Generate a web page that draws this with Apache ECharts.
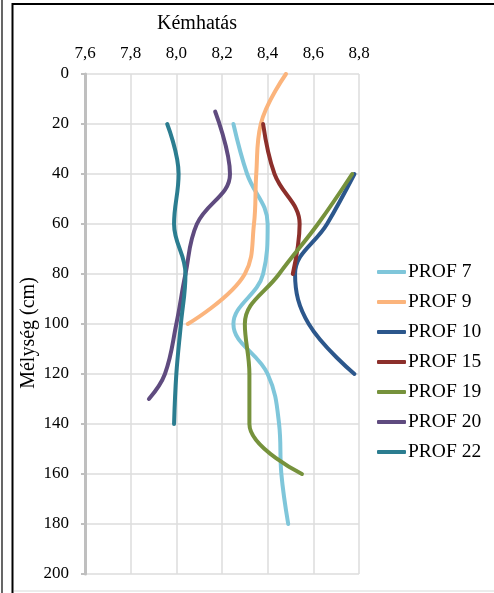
<!DOCTYPE html>
<html>
<head>
<meta charset="utf-8">
<title>Kémhatás – Mélység</title>
<script src="https://cdn.jsdelivr.net/npm/echarts@6/dist/echarts.min.js"></script>
<style>
  html, body { margin: 0; padding: 0; background: #fff; }
  #chart { width: 494px; height: 593px; }
</style>
</head>
<body>
<div id="chart"></div>
<script>
// pH (kémhatás) profiles by depth; each point is [pH, depth in cm]
const seriesNames = ['PROF 7', 'PROF 9', 'PROF 10', 'PROF 15', 'PROF 19', 'PROF 20', 'PROF 22'];

const prof7  = [[8.25, 20], [8.31, 40], [8.40, 60], [8.38, 80], [8.25, 100], [8.40, 120], [8.45, 140], [8.46, 160], [8.49, 180]];
const prof9  = [[8.48, 0], [8.37, 20], [8.35, 40], [8.34, 60], [8.30, 80], [8.05, 100]];
const prof10 = [[8.78, 40], [8.66, 60], [8.52, 80], [8.58, 100], [8.78, 120]];
const prof15 = [[8.38, 20], [8.43, 40], [8.54, 60], [8.51, 80]];
const prof19 = [[8.77, 40], [8.62, 60], [8.45, 80], [8.30, 100], [8.32, 120], [8.32, 140], [8.55, 160]];
const prof20 = [[8.17, 15], [8.235, 40], [8.09, 60], [8.04, 80], [8.00, 100], [7.95, 120], [7.88, 130]];
const prof22 = [[7.96, 20], [8.01, 40], [7.99, 60], [8.04, 80], [8.02, 100], [8.00, 120], [7.99, 140]];

const seriesData = [prof7, prof9, prof10, prof15, prof19, prof20, prof22];
const seriesColors = ['#7fc6da', '#fbb47c', '#2c578c', '#8c2f2b', '#76923c', '#5f4b7f', '#2b7d90'];

// axis ranges and tick labels
const phTicks = [7.6, 7.8, 8.0, 8.2, 8.4, 8.6, 8.8];
const phTickLabels = ['7,6', '7,8', '8,0', '8,2', '8,4', '8,6', '8,8'];
const depthTicks = [0, 20, 40, 60, 80, 100, 120, 140, 160, 180, 200];

const FONT = 'Liberation Serif, Times New Roman, serif';
const GRID_COLOR = '#dcdcdc';
const AXIS_GREY = '#bfbfbf';

const chart = echarts.init(document.getElementById('chart'), null, { renderer: 'canvas' });

const option = {
  animation: false,
  backgroundColor: '#ffffff',
  grid: { left: 85, right: 135, top: 74, bottom: 19, containLabel: false },
  xAxis: {
    type: 'value',
    position: 'top',
    min: phTicks[0],
    max: phTicks[phTicks.length - 1],
    interval: 0.2,
    axisLine: { show: false },
    axisTick: { show: false },
    axisLabel: {
      margin: 12,
      fontFamily: FONT,
      fontSize: 17,
      color: '#000',
      formatter: function (v) {
        const i = phTicks.findIndex(t => Math.abs(t - v) < 1e-6);
        return i >= 0 ? phTickLabels[i] : '';
      }
    },
    splitLine: { show: true, lineStyle: { color: GRID_COLOR, width: 1.5 } }
  },
  yAxis: {
    type: 'value',
    inverse: true,
    min: depthTicks[0],
    max: depthTicks[depthTicks.length - 1],
    interval: 20,
    axisLine: { show: true, lineStyle: { color: AXIS_GREY, width: 3 } },
    axisTick: { show: true, inside: false, length: 4, lineStyle: { color: AXIS_GREY, width: 2 } },
    axisLabel: { margin: 16, fontFamily: FONT, fontSize: 17, color: '#000' },
    splitLine: { show: true, lineStyle: { color: GRID_COLOR, width: 1.5 } }
  },
  legend: {
    orient: 'vertical',
    left: 372,
    top: 257,
    icon: 'roundRect',
    itemWidth: 29,
    itemHeight: 4,
    itemGap: 10,
    data: seriesNames,
    textStyle: { fontFamily: FONT, fontSize: 19.5, color: '#000', padding: [0, 0, 0, -3] }
  },
  graphic: [
    // frame lines
    { type: 'line', shape: { x1: 2, y1: 0, x2: 2, y2: 593 }, style: { stroke: '#000', lineWidth: 1.2 }, silent: true },
    { type: 'line', shape: { x1: 12.5, y1: 3, x2: 12.5, y2: 593 }, style: { stroke: '#000', lineWidth: 2 }, silent: true },
    { type: 'line', shape: { x1: 12, y1: 4, x2: 494, y2: 4 }, style: { stroke: '#000', lineWidth: 2 }, silent: true },
    { type: 'line', shape: { x1: 14, y1: 591, x2: 494, y2: 591 }, style: { stroke: '#d9d9d9', lineWidth: 1 }, silent: true },
    // axis titles
    {
      type: 'text', x: 197, y: 24, silent: true,
      style: { text: 'Kémhatás', font: '20px ' + FONT, fill: '#000', textAlign: 'center', textVerticalAlign: 'middle' }
    },
    {
      type: 'text', x: 29, y: 333, rotation: Math.PI / 2, silent: true,
      style: { text: 'Mélység (cm)', font: '20px ' + FONT, fill: '#000', textAlign: 'center', textVerticalAlign: 'middle' }
    }
  ],
  series: seriesNames.map((name, i) => ({
    name: name,
    type: 'line',
    data: seriesData[i],
    smooth: 0.4,
    symbol: 'none',
    showSymbol: false,
    color: seriesColors[i],
    lineStyle: { width: 4, color: seriesColors[i], cap: 'round', join: 'round' },
    itemStyle: { color: seriesColors[i] },
    z: 2 + i
  }))
};

chart.setOption(option);
</script>
</body>
</html>
